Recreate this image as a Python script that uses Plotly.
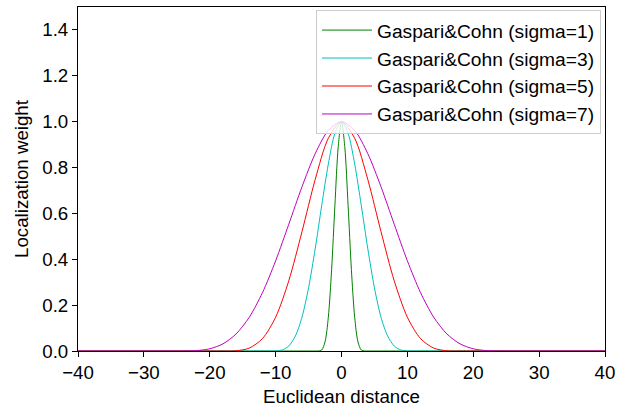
import plotly.graph_objects as go

# Values (symmetric bell-shaped localization curves)
x_s1 = [-40, -4, -3.5, -3, -2.5, -2, -1.5, -1, -0.5, 0, 0.5, 1, 1.5, 2, 2.5, 3, 3.5, 4, 40]
y_s1 = [0, 0, 0.0001, 0.0045, 0.0396, 0.1472, 0.3558, 0.6354, 0.8903, 1.0,
        0.8903, 0.6354, 0.3558, 0.1472, 0.0396, 0.0045, 0.0001, 0, 0]

x_s3 = [-40, -12, -11, -10, -9, -8, -7, -6, -5, -4, -3, -2, -1, 0,
        1, 2, 3, 4, 5, 6, 7, 8, 9, 10, 11, 12, 40]
y_s3 = [0, 0, 0, 0.0003, 0.0045, 0.0220, 0.0654, 0.1472, 0.2753, 0.4448, 0.6354, 0.8155, 0.9488, 1.0,
        0.9488, 0.8155, 0.6354, 0.4448, 0.2753, 0.1472, 0.0654, 0.0220, 0.0045, 0.0003, 0, 0, 0]

x_s5 = [-40, -20, -18, -16, -14, -12, -10, -8, -6, -4, -2, 0,
        2, 4, 6, 8, 10, 12, 14, 16, 18, 20, 40]
y_s5 = [0, 0, 0, 0.0010, 0.0126, 0.0540, 0.1472, 0.3063, 0.5201, 0.7470, 0.9276, 1.0,
        0.9276, 0.7470, 0.5201, 0.3063, 0.1472, 0.0540, 0.0126, 0.0010, 0, 0, 0]

x_s7 = [-40, -28, -26, -24, -22, -20, -18, -16, -14, -12, -10, -8, -6, -4, -2, 0,
        2, 4, 6, 8, 10, 12, 14, 16, 18, 20, 22, 24, 26, 28, 40]
y_s7 = [0, 0, 0, 0.0001, 0.0017, 0.0097, 0.0311, 0.0744, 0.1472, 0.2542, 0.3931, 0.5530, 0.7159, 0.8600, 0.9619, 1.0,
        0.9619, 0.8600, 0.7159, 0.5530, 0.3931, 0.2542, 0.1472, 0.0744, 0.0311, 0.0097, 0.0017, 0.0001, 0, 0, 0]

series = [
    ("Gaspari&Cohn (sigma=1)", x_s1, y_s1, "#008000"),
    ("Gaspari&Cohn (sigma=3)", x_s3, y_s3, "#00bfbf"),
    ("Gaspari&Cohn (sigma=5)", x_s5, y_s5, "#ff0000"),
    ("Gaspari&Cohn (sigma=7)", x_s7, y_s7, "#bf00bf"),
]

x_ticks = [-40, -30, -20, -10, 0, 10, 20, 30, 40]
y_ticks = [0.0, 0.2, 0.4, 0.6, 0.8, 1.0, 1.2, 1.4]

fig = go.Figure()
for name, xs, ys, col in series:
    fig.add_trace(go.Scatter(x=xs, y=ys, mode="lines", name=name,
                             line=dict(color=col, width=1, shape="spline", smoothing=0.8)))

font_family = "Liberation Sans, Arial, sans-serif"
fs = 18.7
axis_common = dict(showgrid=False, zeroline=False, showline=True, linecolor="black",
                   linewidth=1, mirror=True, ticks="outside", ticklen=5, tickwidth=1,
                   tickcolor="black", tickfont=dict(size=fs, color="black", family=font_family))

fig.update_layout(
    width=621, height=410,
    margin=dict(l=78, r=12, t=6, b=59),
    plot_bgcolor="white", paper_bgcolor="white",
    font=dict(family=font_family, size=fs, color="black"),
    xaxis=dict(range=[-40, 40], tickvals=x_ticks, ticktext=[str(t).replace("-", "\u2212") for t in x_ticks],
               title=dict(text="Euclidean distance", font=dict(size=fs), standoff=7), **axis_common),
    yaxis=dict(range=[0, 1.5], tickvals=y_ticks, ticktext=[f"{t:.1f}" for t in y_ticks],
               title=dict(text="Localization weight", font=dict(size=fs), standoff=8), **axis_common),
    legend=dict(x=0.9924, y=0.991, xanchor="right", yanchor="top",
                bgcolor="rgba(255,255,255,0.8)", bordercolor="#cccccc", borderwidth=1,
                font=dict(size=19.2, color="black", family=font_family),
                tracegroupgap=0, itemwidth=50),
    showlegend=True,
)

fig.write_html("out.html")
